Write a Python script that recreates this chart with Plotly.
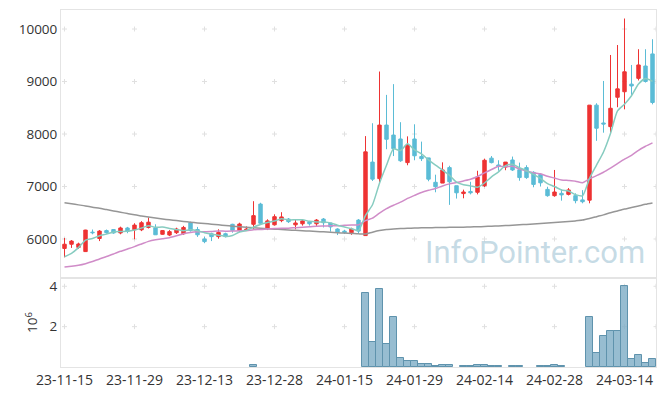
import plotly.graph_objects as go

# ---------------- data ----------------
dates = [
    "2023-11-15", "2023-11-16", "2023-11-17", "2023-11-20", "2023-11-21", "2023-11-22", "2023-11-23",
    "2023-11-24", "2023-11-27", "2023-11-28", "2023-11-29", "2023-11-30", "2023-12-01", "2023-12-04",
    "2023-12-05", "2023-12-06", "2023-12-07", "2023-12-08", "2023-12-11", "2023-12-12", "2023-12-13",
    "2023-12-14", "2023-12-15", "2023-12-18", "2023-12-19", "2023-12-20", "2023-12-21", "2023-12-22",
    "2023-12-26", "2023-12-27", "2023-12-28", "2024-01-02", "2024-01-03", "2024-01-04", "2024-01-05",
    "2024-01-08", "2024-01-09", "2024-01-10", "2024-01-11", "2024-01-12", "2024-01-15", "2024-01-16",
    "2024-01-17", "2024-01-18", "2024-01-19", "2024-01-22", "2024-01-23", "2024-01-24", "2024-01-25",
    "2024-01-26", "2024-01-29", "2024-01-30", "2024-01-31", "2024-02-01", "2024-02-02", "2024-02-05",
    "2024-02-06", "2024-02-07", "2024-02-08", "2024-02-13", "2024-02-14", "2024-02-15", "2024-02-16",
    "2024-02-19", "2024-02-20", "2024-02-21", "2024-02-22", "2024-02-23", "2024-02-26", "2024-02-27",
    "2024-02-28", "2024-02-29", "2024-03-04", "2024-03-05", "2024-03-06", "2024-03-07", "2024-03-08",
    "2024-03-11", "2024-03-12", "2024-03-13", "2024-03-14", "2024-03-15", "2024-03-18", "2024-03-19",
    "2024-03-20",
]

opens = [5820, 5900, 5840, 5760, 6130, 6010, 6160, 6180, 6115, 6210, 6175, 6175, 6220, 6215, 6090,
         6075, 6120, 6100, 6310, 6180, 6000, 6100, 6045, 6100, 6280, 6160, 6160, 6280, 6665, 6195,
         6270, 6350, 6380, 6270, 6290, 6330, 6290, 6380, 6305, 6190, 6150, 6120, 6360, 6065, 7465,
         7150, 8170, 7980, 7905, 7455, 7905, 7570, 7545, 7080, 7065, 7360, 7015, 6865, 6905, 6890,
         7015, 7540, 7410, 7370, 7505, 7320, 7360, 7270, 7230, 6945, 6825, 6870, 6850, 6825, 6745,
         6740, 8550, 8210, 8140, 8700, 8805, 8950, 9060, 9295, 9525]
highs = [6020, 5980, 5930, 6175, 6180, 6170, 6180, 6190, 6235, 6230, 6300, 6340, 6410, 6280, 6170,
         6170, 6215, 6250, 6330, 6230, 6045, 6120, 6185, 6120, 6290, 6310, 6240, 6720, 6690, 6375,
         6470, 6510, 6400, 6365, 6380, 6345, 6380, 6400, 6305, 6205, 6175, 6215, 6380, 7960, 8205,
         9190, 8745, 8950, 8225, 7955, 8185, 7855, 7545, 7225, 7460, 7395, 7015, 6940, 7090, 7300,
         7530, 7580, 7500, 7465, 7570, 7455, 7405, 7290, 7250, 6995, 7315, 6945, 6970, 6870, 6930,
         8550, 8585, 9010, 9505, 9695, 10200, 9315, 9615, 9615, 9805]
lows = [5650, 5830, 5810, 5755, 6090, 5960, 6100, 6100, 6090, 6110, 5995, 6150, 6200, 6080, 6080,
        6055, 6095, 6080, 6140, 6040, 5920, 5960, 6005, 6030, 6120, 6130, 6155, 6195, 6280, 6170,
        6255, 6320, 6305, 6185, 6255, 6255, 6250, 6220, 6140, 6075, 6095, 6080, 6110, 6060, 7105,
        7060, 7710, 7580, 7470, 7405, 7500, 7485, 7100, 6890, 7065, 6650, 6770, 6775, 6850, 6850,
        6990, 7440, 7300, 7310, 7295, 7110, 7145, 6985, 7000, 6805, 6805, 6730, 6830, 6680, 6680,
        6680, 7870, 8025, 8010, 8510, 8470, 8745, 9020, 8980, 8565]
closes = [5900, 5960, 5905, 6170, 6120, 6150, 6120, 6115, 6210, 6145, 6265, 6310, 6320, 6080, 6160,
          6140, 6190, 6220, 6160, 6080, 5950, 6045, 6125, 6045, 6165, 6285, 6190, 6445, 6300, 6345,
          6425, 6420, 6330, 6305, 6345, 6290, 6360, 6310, 6230, 6125, 6120, 6190, 6150, 7660, 7140,
          8170, 7900, 7720, 7490, 7785, 7585, 7530, 7140, 6995, 7315, 7090, 6880, 6895, 6880, 7180,
          7500, 7455, 7385, 7465, 7315, 7170, 7170, 7040, 7070, 6825, 6895, 6840, 6935, 6730, 6710,
          8550, 8110, 8190, 8490, 8860, 9185, 8915, 9315, 9000, 8600]

ma5 = [5663, 5727, 5835, 5980, 6011, 6061, 6093, 6135, 6143, 6148, 6171, 6209, 6250, 6224, 6227,
       6202, 6178, 6158, 6174, 6158, 6120, 6091, 6072, 6049, 6066, 6133, 6162, 6226, 6277, 6313,
       6341, 6387, 6364, 6365, 6365, 6338, 6326, 6322, 6307, 6263, 6229, 6195, 6163, 6449, 6652,
       7062, 7404, 7718, 7684, 7813, 7696, 7622, 7506, 7407, 7313, 7214, 7084, 7035, 7012, 6985,
       7067, 7182, 7280, 7397, 7424, 7358, 7301, 7232, 7153, 7055, 7000, 6934, 6913, 6845, 6822,
       7153, 7407, 7658, 8010, 8440, 8567, 8728, 8953, 9055, 9003]
ma20 = [5465, 5480, 5500, 5530, 5570, 5620, 5665, 5715, 5765, 5810, 5855, 5905, 5955, 5985, 6005,
        6025, 6060, 6100, 6125, 6136, 6139, 6143, 6154, 6148, 6150, 6157, 6160, 6177, 6181, 6191,
        6199, 6205, 6205, 6216, 6226, 6233, 6242, 6246, 6250, 6252, 6260, 6268, 6269, 6350, 6398,
        6493, 6578, 6642, 6701, 6773, 6831, 6887, 6927, 6962, 7010, 7050, 7076, 7106, 7138, 7191,
        7260, 7323, 7385, 7375, 7384, 7334, 7297, 7263, 7242, 7194, 7160, 7125, 7115, 7102, 7072,
        7145, 7206, 7271, 7351, 7435, 7520, 7593, 7689, 7766, 7830]
ma120 = [6690, 6670, 6650, 6630, 6605, 6585, 6560, 6535, 6510, 6485, 6460, 6440, 6420, 6400, 6382,
         6365, 6350, 6335, 6320, 6307, 6295, 6282, 6270, 6258, 6245, 6235, 6225, 6215, 6205, 6195,
         6187, 6180, 6172, 6165, 6157, 6150, 6143, 6136, 6128, 6120, 6112, 6105, 6098, 6095, 6130,
         6160, 6180, 6190, 6198, 6204, 6208, 6212, 6215, 6218, 6220, 6222, 6224, 6226, 6229, 6233,
         6238, 6243, 6248, 6255, 6262, 6270, 6278, 6286, 6294, 6303, 6312, 6322, 6333, 6345, 6360,
         6390, 6425, 6460, 6500, 6535, 6570, 6600, 6630, 6660, 6685]

volume = [20000, 20000, 20000, 20000, 20000, 20000, 20000, 20000, 20000, 20000, 20000, 20000, 20000,
          20000, 20000, 20000, 20000, 20000, 20000, 20000, 20000, 20000, 20000, 20000, 20000, 20000,
          20000, 80000, 20000, 20000, 20000, 20000, 20000, 20000, 20000, 20000, 20000, 20000, 20000,
          20000, 20000, 20000, 20000, 3650000, 1240000, 3850000, 1140000, 2460000, 430000, 280000,
          280000, 130000, 130000, 30000, 80000, 80000, 15000, 30000, 30000, 80000, 80000, 30000, 30000,
          15000, 30000, 30000, 15000, 15000, 30000, 30000, 80000, 30000, 15000, 15000, 15000, 2460000,
          680000, 1520000, 1770000, 1770000, 4010000, 380000, 580000, 180000, 380000]

price_ticks = [6000, 7000, 8000, 9000, 10000]
volume_ticks = [2000000, 4000000]
volume_tick_text = ["2", "4"]

# ---------------- figure ----------------
pos = list(range(len(dates)))
tick_pos = pos[::10]
tick_text = [dates[i][2:] for i in tick_pos]

FONT = "Open Sans"
TXT = "#333333"
FRAME = "#e4e4e4"
UP = "#ee3333"
DOWN = "#5bbcd6"
CROSS_COLOR = "#e0e0e0"

# the page body has an 8px default margin: shrink the figure by that amount
PAGE_OFF = 8
W, H = 665 - PAGE_OFF, 396 - PAGE_OFF

fig = go.Figure()

fig.add_trace(go.Candlestick(
    x=pos, open=opens, high=highs, low=lows, close=closes, xaxis="x", yaxis="y",
    increasing=dict(line=dict(color=UP, width=1), fillcolor=UP),
    decreasing=dict(line=dict(color=DOWN, width=1), fillcolor=DOWN),
    whiskerwidth=0, hoverinfo="skip"))

fig.add_trace(go.Scatter(x=pos, y=ma120, mode="lines", xaxis="x", yaxis="y",
                         line=dict(color="rgb(150,150,150)", width=1.5, shape="spline", smoothing=0.6),
                         hoverinfo="skip"))
fig.add_trace(go.Scatter(x=pos, y=ma20, mode="lines", xaxis="x", yaxis="y",
                         line=dict(color="rgb(208,140,200)", width=1.5, shape="spline", smoothing=0.6),
                         hoverinfo="skip"))
fig.add_trace(go.Scatter(x=pos, y=ma5, mode="lines", xaxis="x", yaxis="y",
                         line=dict(color="rgb(135,204,192)", width=1.5, shape="spline", smoothing=0.6),
                         hoverinfo="skip"))

vol_line_w = [1 if v >= 25000 else 0 for v in volume]
fig.add_trace(go.Bar(x=pos, y=volume, xaxis="x2", yaxis="y2",
                     marker=dict(color="rgba(125,172,198,0.8)",
                                 line=dict(color="#5f93ad", width=vol_line_w)),
                     hoverinfo="skip"))

# grid crosses at tick intersections, drawn beneath the data
grid_x = tick_pos + [len(dates) - 0.5]
shapes = []
for xr, yr, yvals in (("x", "y", price_ticks), ("x2", "y2", volume_ticks)):
    for yv in yvals:
        for xv in grid_x:
            shapes.append(dict(type="line", xref=xr, yref=yr, layer="below",
                               xsizemode="pixel", xanchor=xv, x0=-2.5, x1=2.5, y0=yv, y1=yv,
                               line=dict(color=CROSS_COLOR, width=1)))
            shapes.append(dict(type="line", xref=xr, yref=yr, layer="below",
                               ysizemode="pixel", yanchor=yv, y0=-2.5, y1=2.5, x0=xv, x1=xv,
                               line=dict(color=CROSS_COLOR, width=1)))

split = 89 / 357

fig.update_layout(
    width=W, height=H,
    margin=dict(l=61 - PAGE_OFF, r=9, t=10 - PAGE_OFF, b=29, autoexpand=False),
    paper_bgcolor="white", plot_bgcolor="white",
    showlegend=False, hovermode=False, bargap=0,
    font=dict(family=FONT, size=13, color=TXT),
    shapes=shapes,
    xaxis=dict(domain=[0, 1], anchor="y", range=[-0.5, 84.5], showticklabels=False,
               showgrid=False, zeroline=False, showline=True, linecolor=FRAME, mirror=True,
               ticks="", rangeslider=dict(visible=False), tickvals=tick_pos),
    yaxis=dict(domain=[split, 1], anchor="x", range=[5257, 10362], tickvals=price_ticks,
               tickformat="d", showgrid=False, zeroline=False, showline=True, linecolor=FRAME,
               mirror=True, ticks="", tickfont=dict(size=13.5, color=TXT)),
    xaxis2=dict(domain=[0, 1], anchor="y2", matches="x", range=[-0.5, 84.5],
                tickvals=tick_pos, ticktext=tick_text, showgrid=False, zeroline=False,
                showline=True, linecolor=FRAME, mirror=True, ticks="",
                tickfont=dict(size=14, color=TXT)),
    yaxis2=dict(domain=[0, split], anchor="x2", range=[0, 4410000], tickvals=volume_ticks,
                ticktext=volume_tick_text, showgrid=False, zeroline=False, showline=True,
                linecolor=FRAME, mirror=True, ticks="", tickfont=dict(size=13.5, color=TXT),
                title=dict(text="10<sup>6</sup>", font=dict(size=13.5, color=TXT), standoff=8)),
    annotations=[dict(text="InfoPointer.com", xref="paper", yref="paper", x=0.797, y=0.322,
                      xanchor="center", yanchor="middle", showarrow=False,
                      font=dict(family="Roboto", size=31, color="rgba(160,195,212,0.6)"))],
)

fig.write_html("out.html")
